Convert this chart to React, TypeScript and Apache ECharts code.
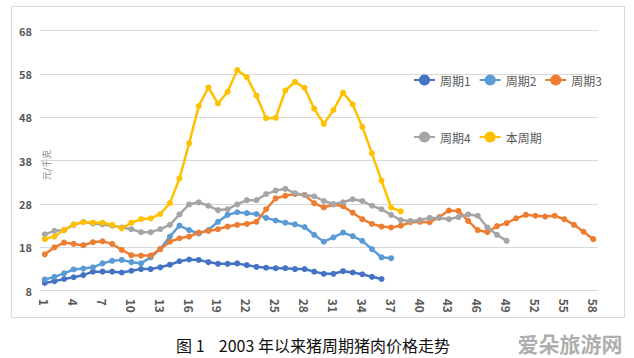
import React, { useEffect, useRef } from "react";
import * as echarts from "echarts";

const categories: string[] = Array.from({ length: 58 }, (_, i) => String(i + 1));
const yTicks = { min: 8, max: 68, interval: 10 };

const cycle1: (number | null)[] = [9.8, 10.2, 10.7, 11.1, 11.6, 12.4, 12.4, 12.4, 12.2, 12.6, 13.0, 13.0, 13.4, 14.0, 14.8, 15.2, 15.1, 14.6, 14.2, 14.2, 14.3, 13.9, 13.5, 13.3, 13.2, 13.2, 13.0, 13.0, 12.4, 11.9, 11.9, 12.5, 12.2, 11.8, 11.2, 10.7];
const cycle2: (number | null)[] = [10.6, 11.2, 12.0, 12.9, 13.1, 13.4, 14.3, 14.9, 15.1, 14.6, 14.3, 15.7, 17.6, 20.5, 23.0, 22.0, 21.2, 22.0, 23.9, 25.5, 26.1, 25.9, 25.7, 24.8, 24.2, 23.7, 23.3, 22.7, 20.9, 19.3, 20.3, 21.4, 20.6, 19.5, 17.6, 15.7, 15.5];
const cycle3: (number | null)[] = [16.4, 18.0, 19.1, 18.8, 18.5, 19.2, 19.4, 18.8, 17.4, 16.2, 16.1, 16.1, 17.6, 19.3, 20.1, 20.5, 21.4, 21.8, 22.2, 22.8, 23.2, 23.4, 23.9, 26.8, 29.3, 29.9, 30.3, 30.1, 28.2, 27.2, 27.9, 27.5, 26.0, 24.5, 23.4, 22.8, 22.6, 23.0, 23.8, 23.9, 23.8, 25.0, 26.5, 26.4, 24.1, 22.0, 21.5, 22.9, 23.6, 24.7, 25.5, 25.3, 25.1, 25.3, 24.5, 23.2, 21.6, 19.9];
const cycle4: (number | null)[] = [21.0, 21.8, 22.0, 23.2, 23.9, 23.5, 23.3, 23.0, 22.6, 22.2, 21.5, 21.5, 22.2, 23.2, 25.6, 27.9, 28.4, 27.6, 26.6, 26.8, 27.9, 28.9, 28.9, 30.3, 31.1, 31.5, 30.5, 30.1, 29.8, 28.7, 28.0, 28.4, 29.1, 28.7, 27.6, 26.8, 25.5, 24.3, 24.1, 24.3, 24.8, 24.8, 24.5, 25.0, 25.6, 25.3, 22.6, 20.9, 19.5];
const current: (number | null)[] = [19.9, 20.5, 22.0, 23.3, 23.8, 23.7, 23.7, 23.2, 22.4, 23.7, 24.5, 24.7, 25.7, 28.2, 33.9, 42.0, 50.6, 54.9, 51.2, 53.9, 58.9, 57.3, 53.0, 47.8, 47.9, 54.2, 56.2, 54.8, 50.0, 46.5, 49.7, 53.7, 51.0, 45.8, 39.7, 33.4, 27.2, 26.3];

const seriesNames = ["周期1", "周期2", "周期3", "周期4", "本周期"];
const seriesColors = ["#4472C4", "#5B9BD5", "#ED7D31", "#A5A5A5", "#FFC000"];
const seriesData = [cycle1, cycle2, cycle3, cycle4, current];

const FONT = "'Noto Sans CJK SC', 'Noto Sans', sans-serif";

export default function App() {
  const ref = useRef<HTMLDivElement>(null);
  useEffect(() => {
    if (!ref.current) return;
    const chart = echarts.init(ref.current, undefined, { renderer: "svg" });
    chart.setOption({
      animation: false,
      backgroundColor: "#ffffff",
      grid: { left: 40, right: 36, top: 30.7, bottom: 67.3, containLabel: false },
      legend: [
        {
          data: ["周期1", "周期2", "周期3"],
          left: 408,
          top: 69,
          itemWidth: 21,
          itemHeight: 14,
          itemGap: 8,
          textStyle: { color: "#595959", fontSize: 12, fontFamily: FONT },
        },
        {
          data: ["周期4", "本周期"],
          left: 408,
          top: 126,
          itemWidth: 21,
          itemHeight: 14,
          itemGap: 8,
          textStyle: { color: "#595959", fontSize: 12, fontFamily: FONT },
        },
      ],
      xAxis: {
        type: "category",
        data: categories,
        boundaryGap: true,
        axisLine: { show: true, lineStyle: { color: "#d9d9d9" } },
        axisTick: { show: false },
        axisLabel: {
          interval: 2,
          rotate: -90,
          margin: 8,
          color: "#595959",
          fontSize: 12,
          fontWeight: "bold",
          fontFamily: FONT,
        },
      },
      yAxis: {
        type: "value",
        min: yTicks.min,
        max: yTicks.max,
        interval: yTicks.interval,
        axisLine: { show: false },
        axisTick: { show: false },
        axisLabel: { color: "#595959", fontSize: 11, fontWeight: "bold", margin: 8, fontFamily: FONT },
        splitLine: { lineStyle: { color: "#d9d9d9", width: 1 } },
      },
      series: seriesNames.map((n, i) => ({
        name: n,
        type: "line",
        data: seriesData[i],
        symbol: "circle",
        symbolSize: 6,
        color: seriesColors[i],
        lineStyle: { width: 2.5, color: seriesColors[i] },
        itemStyle: { color: seriesColors[i] },
        connectNulls: false,
      })),
      graphic: [
        {
          type: "rect",
          shape: { x: 11.5, y: 6.5, width: 613, height: 311 },
          style: { fill: "none", stroke: "#d9d9d9", lineWidth: 1 },
          z: -1,
        },
        {
          type: "text",
          x: 46,
          y: 165,
          rotation: Math.PI / 2,
          style: {
            text: "元/千克",
            fill: "#8c8c8c",
            fontSize: 9,
            fontFamily: FONT,
            align: "center",
            verticalAlign: "middle",
          },
        },
        {
          type: "text",
          x: 313,
          y: 345,
          style: {
            text: "图 1    2003 年以来猪周期猪肉价格走势",
            fill: "#111111",
            fontSize: 16,
            fontFamily: FONT,
            align: "center",
            verticalAlign: "middle",
          },
        },
        {
          type: "text",
          x: 570,
          y: 343,
          style: {
            text: "爱朵旅游网",
            fill: "#a0a0a0",
            fontSize: 21,
            fontWeight: "bold",
            fontFamily: FONT,
            align: "center",
            verticalAlign: "middle",
            opacity: 0.85,
          },
        },
      ],
    });
    return () => chart.dispose();
  }, []);
  return (
    <div
      ref={ref}
      style={{ position: "fixed", left: 0, top: 0, width: 634, height: 358, background: "#fff" }}
    />
  );
}
